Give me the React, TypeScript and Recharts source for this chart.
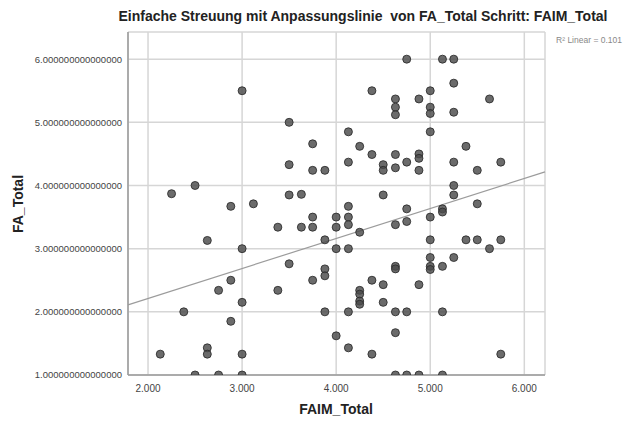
import { ScatterChart, Scatter, XAxis, YAxis, CartesianGrid, ReferenceLine } from 'recharts'

// FAIM_Total (x) against FA_Total (y), one entry per respondent
const FAIM_TOTAL = [
  3.0, 2.25, 2.5, 2.88, 3.12, 4.75, 4.38, 4.63, 4.63, 4.63,
  3.5, 4.13, 3.75, 4.25, 4.38, 4.63, 3.5, 4.13, 4.5, 4.5,
  4.63, 4.75, 3.75, 3.88, 3.5, 3.63, 4.5, 4.13, 4.75, 5.13,
  5.25, 5.25, 5.0, 4.88, 5.63, 5.0, 5.0, 5.25, 5.0, 5.38,
  4.88, 4.88, 5.25, 5.75, 4.88, 5.5, 5.25, 5.25, 5.5, 5.13,
  5.13, 4.75, 5.0, 5.0, 5.38, 5.5, 5.75, 5.63, 5.0, 5.25,
  5.0, 5.0, 5.13, 4.88, 4.75, 5.13, 5.75, 4.75, 4.88, 5.13,
  3.75, 4.0, 4.13, 3.38, 3.63, 3.75, 4.0, 4.13, 4.25, 4.63,
  3.88, 4.0, 4.13, 3.5, 3.88, 3.88, 3.75, 4.63, 4.63, 4.38,
  4.5, 3.38, 4.25, 4.25, 4.25, 4.25, 4.5, 3.88, 4.13, 4.63,
  4.0, 4.63, 4.13, 4.38, 4.63, 2.63, 3.0, 2.88, 2.75, 3.0,
  2.38, 2.88, 2.63, 2.63, 2.13, 3.0, 2.5, 2.75, 3.0,
]

const FA_TOTAL = [
  5.5, 3.87, 4.0, 3.67, 3.71, 6.0, 5.5, 5.37, 5.24, 5.12,
  5.0, 4.85, 4.66, 4.62, 4.49, 4.49, 4.33, 4.37, 4.33, 4.24,
  4.28, 4.37, 4.24, 4.24, 3.85, 3.86, 3.85, 3.67, 3.63, 6.0,
  6.0, 5.62, 5.5, 5.37, 5.37, 5.24, 5.14, 5.16, 4.85, 4.62,
  4.5, 4.43, 4.37, 4.37, 4.24, 4.24, 4.0, 3.85, 3.71, 3.63,
  3.58, 3.43, 3.5, 3.14, 3.14, 3.14, 3.14, 3.0, 2.86, 2.86,
  2.72, 2.67, 2.72, 2.43, 2.0, 2.0, 1.33, 1.0, 1.0, 1.0,
  3.5, 3.5, 3.5, 3.34, 3.34, 3.34, 3.34, 3.38, 3.26, 3.38,
  3.14, 3.0, 3.0, 2.76, 2.68, 2.57, 2.5, 2.72, 2.68, 2.5,
  2.43, 2.34, 2.34, 2.28, 2.17, 2.12, 2.15, 2.0, 2.0, 2.0,
  1.62, 1.67, 1.43, 1.33, 1.0, 3.13, 3.0, 2.5, 2.34, 2.15,
  2.0, 1.85, 1.43, 1.33, 1.33, 1.33, 1.0, 1.0, 1.0,
]

const X_TICKS = [2, 3, 4, 5, 6]
const Y_TICKS = [1, 2, 3, 4, 5, 6]
const X_DOMAIN = [1.787, 6.22]
const Y_DOMAIN = [1, 6.43]

// linear fit, drawn across the whole x range
const FIT_X = [1.787, 6.22]
const FIT_Y = [2.11, 4.216]
const R_SQUARED = 0.101

const TITLE = 'Einfache Streuung mit Anpassungslinie  von FA_Total Schritt: FAIM_Total'
const FONT = '"Liberation Sans", Arial, sans-serif'

const points = FAIM_TOTAL.map((x, i) => ({ x, y: FA_TOTAL[i] }))

function Dot(props: any) {
  const { cx, cy } = props
  if (cx == null || cy == null) return null
  return (
    <circle
      cx={cx}
      cy={cy}
      r={4}
      fill="#4a4a4a"
      fillOpacity={0.82}
      stroke="#2a2a2a"
      strokeOpacity={0.85}
      strokeWidth={1}
    />
  )
}

export default function App() {
  return (
    <div style={{ position: 'absolute', left: 0, top: 0, width: 627, height: 421, background: '#fff' }}>
      <ScatterChart
        width={627}
        height={421}
        margin={{ top: 32, right: 82, bottom: 0, left: 0 }}
        style={{ fontFamily: FONT }}
      >
        <CartesianGrid stroke="#d6d6d6" strokeWidth={1.5} />
        <XAxis
          type="number"
          dataKey="x"
          domain={X_DOMAIN}
          ticks={X_TICKS}
          allowDataOverflow
          height={46}
          tickSize={0}
          tickMargin={10}
          tickFormatter={(v: number) => v.toFixed(3)}
          tick={{ fontSize: 10, fill: '#444' }}
          axisLine={{ stroke: '#9a9a9a', strokeWidth: 1.5 }}
        />
        <YAxis
          type="number"
          dataKey="y"
          domain={Y_DOMAIN}
          ticks={Y_TICKS}
          allowDataOverflow
          width={128}
          tickSize={0}
          tickMargin={6}
          tickFormatter={(v: number) => v.toFixed(15)}
          tick={{ fontSize: 9.5, fill: '#444' }}
          axisLine={{ stroke: '#9a9a9a', strokeWidth: 1.5 }}
        />
        <ReferenceLine
          segment={[
            { x: FIT_X[0], y: FIT_Y[0] },
            { x: FIT_X[1], y: FIT_Y[1] },
          ]}
          stroke="#9c9c9c"
          strokeWidth={1.2}
          ifOverflow="visible"
        />
        <Scatter data={points} shape={<Dot />} isAnimationActive={false} />
      </ScatterChart>
      <svg
        width={627}
        height={421}
        style={{ position: 'absolute', left: 0, top: 0, pointerEvents: 'none', fontFamily: FONT }}
      >
        <text
          x={363}
          y={21}
          textAnchor="middle"
          fontSize={14}
          fontWeight="bold"
          fill="#222"
          style={{ whiteSpace: 'pre' }}
        >
          {TITLE}
        </text>
        <text x={622} y={43} textAnchor="end" fontSize={8.5} fill="#888">
          R² Linear = {R_SQUARED.toFixed(3)}
        </text>
        <text x={336} y={414} textAnchor="middle" fontSize={14} fontWeight="bold" fill="#222">
          FAIM_Total
        </text>
        <text
          x={23}
          y={204}
          textAnchor="middle"
          fontSize={14}
          fontWeight="bold"
          fill="#222"
          transform="rotate(-90 23 204)"
        >
          FA_Total
        </text>
      </svg>
    </div>
  )
}
